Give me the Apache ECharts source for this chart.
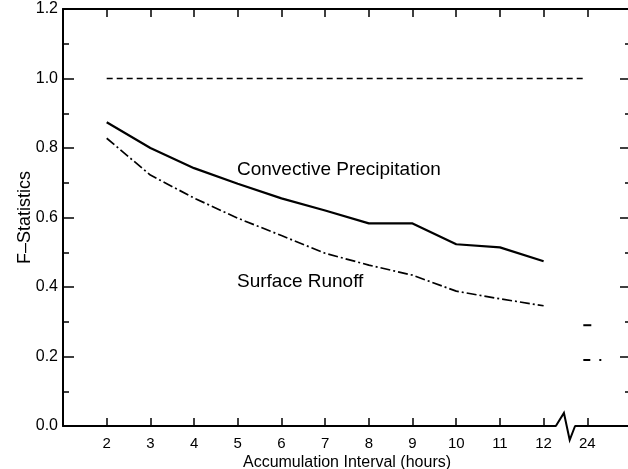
<!DOCTYPE html>
<html>
<head>
<meta charset="utf-8">
<script src="https://cdn.jsdelivr.net/npm/echarts@6/dist/echarts.min.js"></script>
<style>
  html, body { margin: 0; padding: 0; background: #fff; }
  #chart { width: 628px; height: 469px; }
</style>
</head>
<body>
<div id="chart"></div>
<script>
// Accumulation intervals (hours) on the continuous part of the axis
const hours = [2, 3, 4, 5, 6, 7, 8, 9, 10, 11, 12];
// F-statistics, convective precipitation
const convective = [0.874, 0.800, 0.742, 0.697, 0.655, 0.620, 0.583, 0.583, 0.523, 0.514, 0.474];
// F-statistics, surface runoff
const runoff = [0.828, 0.722, 0.656, 0.598, 0.548, 0.497, 0.463, 0.434, 0.388, 0.366, 0.346];
// Reference level drawn across the whole range
const referenceLevel = 1.0;
// Values for the 24-hour interval, placed past the axis break
const extHour = 24;
const extSlot = 13;
const convective24 = 0.29;
const runoff24 = 0.19;

const FONT = '"Liberation Sans", Arial, Helvetica, sans-serif';
const chart = echarts.init(document.getElementById('chart'), null, { renderer: 'canvas' });

const xLabel = v => {
  if (v === extSlot) return String(extHour);
  return hours.indexOf(v) >= 0 ? String(v) : '';
};

const axisLineStyle = { color: '#000', width: 2 };
const tickStyle = { color: '#000', width: 1.5 };

const refData = hours.map(h => [h, referenceLevel]).concat([[extSlot - 0.08, referenceLevel]]);

// Short horizontal stub for the 24-hour values
function stub(pattern) {
  return function (params, api) {
    const p = api.coord([api.value(0), api.value(1)]);
    const children = pattern.map(seg => ({
      type: 'line',
      shape: { x1: p[0] + seg[0], y1: p[1], x2: p[0] + seg[1], y2: p[1] },
      style: { stroke: '#000', lineWidth: 2 }
    }));
    return { type: 'group', children };
  };
}

const labels = [
  {
    id: 'lblConv', type: 'text', left: 237, top: 160,
    style: { text: 'Convective Precipitation', fill: '#000', font: '19px ' + FONT }
  },
  {
    id: 'lblRunoff', type: 'text', left: 237, top: 272,
    style: { text: 'Surface Runoff', fill: '#000', font: '19px ' + FONT }
  }
];

chart.setOption({
  animation: false,
  backgroundColor: '#fff',
  grid: { left: 63, right: -3, top: 9, bottom: 43, containLabel: false, outerBoundsMode: 'none' },
  xAxis: [
    {
      type: 'value', position: 'bottom', min: 1, max: 14, interval: 1,
      axisLine: { show: true, onZero: false, lineStyle: axisLineStyle },
      axisTick: { show: true, inside: true, length: 8, lineStyle: tickStyle },
      splitLine: { show: false },
      axisLabel: { formatter: xLabel, color: '#000', fontSize: 15, fontFamily: FONT, margin: 10 },
      name: 'Accumulation Interval (hours)', nameLocation: 'middle', nameGap: 29, nameMoveOverlap: false,
      nameTextStyle: { color: '#000', fontSize: 16, fontFamily: FONT }
    },
    {
      type: 'value', position: 'top', min: 1, max: 14, interval: 1,
      axisLine: { show: true, onZero: false, lineStyle: axisLineStyle },
      axisTick: { show: true, inside: true, length: 8, lineStyle: tickStyle },
      splitLine: { show: false },
      axisLabel: { show: false }
    }
  ],
  yAxis: [
    {
      type: 'value', position: 'left', min: 0, max: 1.2, interval: 0.2,
      axisLine: { show: true, onZero: false, lineStyle: axisLineStyle },
      axisTick: { show: true, inside: true, length: 11, lineStyle: tickStyle },
      minorTick: { show: true, splitNumber: 2, length: 6, lineStyle: tickStyle },
      splitLine: { show: false },
      axisLabel: { formatter: v => v.toFixed(1), color: '#000', fontSize: 16, fontFamily: FONT, margin: 5 },
      name: 'F\u2013Statistics', nameLocation: 'middle', nameGap: 29, nameRotate: 90, nameMoveOverlap: false,
      nameTextStyle: { color: '#000', fontSize: 18, fontFamily: FONT }
    },
    {
      type: 'value', position: 'right', min: 0, max: 1.2, interval: 0.2,
      axisLine: { show: true, onZero: false, lineStyle: axisLineStyle },
      axisTick: { show: true, inside: true, length: 11, lineStyle: tickStyle },
      minorTick: { show: true, splitNumber: 2, length: 6, lineStyle: tickStyle },
      splitLine: { show: false },
      axisLabel: { show: false }
    }
  ],
  series: [
    {
      name: 'Convective Precipitation', type: 'line', showSymbol: false, symbol: 'none',
      data: hours.map((h, i) => [h, convective[i]]),
      lineStyle: { color: '#000', width: 2.2 }
    },
    {
      name: 'Surface Runoff', type: 'line', showSymbol: false, symbol: 'none',
      data: hours.map((h, i) => [h, runoff[i]]),
      lineStyle: { color: '#000', width: 1.7, type: [10, 3, 2, 3] }
    },
    {
      name: 'Reference', type: 'line', showSymbol: false, symbol: 'none',
      data: refData,
      lineStyle: { color: '#000', width: 1.5, type: [6, 4] }
    },
    {
      name: 'Convective 24h', type: 'custom',
      data: [[extSlot, convective24]],
      renderItem: stub([[-4, 4]])
    },
    {
      name: 'Runoff 24h', type: 'custom',
      data: [[extSlot, runoff24]],
      renderItem: stub([[-4, 3], [12, 14]])
    }
  ],
  graphic: labels
});

// Axis break between 12 and 24 hours on the bottom axis
const breakFrom = 12.28, breakTo = 12.72;
const a = chart.convertToPixel({ xAxisIndex: 0, yAxisIndex: 0 }, [breakFrom, 0]);
const b = chart.convertToPixel({ xAxisIndex: 0, yAxisIndex: 0 }, [breakTo, 0]);
const w = b[0] - a[0];
chart.setOption({
  graphic: labels.concat([
    {
      id: 'breakMask', type: 'rect', z: 100,
      shape: { x: a[0] + 0.5, y: a[1] - 2, width: w - 1, height: 4 },
      style: { fill: '#fff' }
    },
    {
      id: 'breakZig', type: 'polyline', z: 101,
      shape: { points: [[a[0], a[1]], [a[0] + w * 0.42, a[1] - 13], [a[0] + w * 0.72, a[1] + 14], [b[0], a[1]]] },
      style: { stroke: '#000', lineWidth: 2, fill: null }
    }
  ])
});
</script>
</body>
</html>
